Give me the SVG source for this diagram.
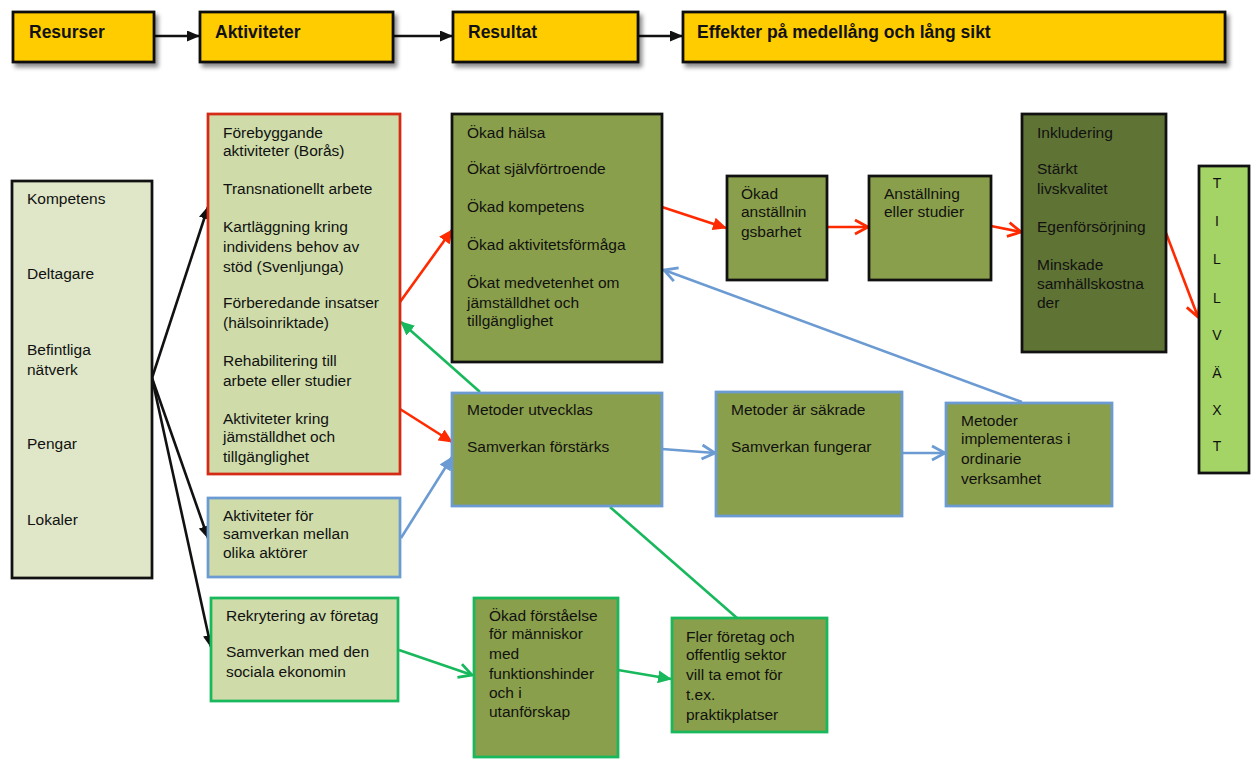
<svg xmlns="http://www.w3.org/2000/svg" width="1252" height="759" viewBox="0 0 1252 759">
<style>
text{font-family:"Liberation Sans",Arial,sans-serif;font-size:15.5px;fill:#111}
.h{font-weight:bold;font-size:17.5px}
.hb{fill:#ffcc00;stroke:#111;stroke-width:2.75}
.bk{stroke:#111;stroke-width:2.75}
.rd{stroke:#d42a16;stroke-width:2.75}
.bl{stroke:#6b9bd2;stroke-width:2.75}
.gn{stroke:#18b85c;stroke-width:2.75}
.pale{fill:#dfe7c8}
.lg{fill:#cfdcaa}
.ol{fill:#8a9f4b}
.dk{fill:#5f7335}
.tv{fill:#a4d466}
.c{fill:none;stroke-width:2.6}
.t{font-size:14px;text-anchor:middle}
</style>
<defs>
<filter id="sh" x="-10%" y="-30%" width="130%" height="180%">
<feDropShadow dx="3" dy="4" stdDeviation="2" flood-color="#000" flood-opacity="0.45"/>
</filter>
<marker id="fk" markerUnits="userSpaceOnUse" markerWidth="13" markerHeight="11" refX="12" refY="5.5" orient="auto"><path d="M0,0 L13,5.5 L0,11 z" fill="#111"/></marker>
<marker id="fr" markerUnits="userSpaceOnUse" markerWidth="14" markerHeight="13" refX="13" refY="6.5" orient="auto"><path d="M0,0 L14,6.5 L0,13 z" fill="#ff2a00"/></marker>
<marker id="fb" markerUnits="userSpaceOnUse" markerWidth="14" markerHeight="13" refX="13" refY="6.5" orient="auto"><path d="M0,0 L14,6.5 L0,13 z" fill="#6b9bd2"/></marker>
<marker id="fg" markerUnits="userSpaceOnUse" markerWidth="14" markerHeight="13" refX="13" refY="6.5" orient="auto"><path d="M0,0 L14,6.5 L0,13 z" fill="#18b85c"/></marker>
<marker id="or" markerUnits="userSpaceOnUse" markerWidth="18" markerHeight="18" refX="15" refY="9" orient="auto"><path d="M2,2 L15,9 L2,16" fill="none" stroke="#ff2a00" stroke-width="2.8"/></marker>
<marker id="ob" markerUnits="userSpaceOnUse" markerWidth="18" markerHeight="18" refX="15" refY="9" orient="auto"><path d="M2,2 L15,9 L2,16" fill="none" stroke="#6b9bd2" stroke-width="2.8"/></marker>
<marker id="og" markerUnits="userSpaceOnUse" markerWidth="18" markerHeight="18" refX="15" refY="9" orient="auto"><path d="M2,2 L15,9 L2,16" fill="none" stroke="#18b85c" stroke-width="2.8"/></marker>
</defs>

<g id="connectors">
<line x1="154" y1="36" x2="199" y2="36" stroke="#111" class="c" marker-end="url(#fk)"/>
<line x1="393" y1="36" x2="452" y2="36" stroke="#111" class="c" marker-end="url(#fk)"/>
<line x1="638" y1="36" x2="682" y2="36" stroke="#111" class="c" marker-end="url(#fk)"/>

<line x1="152" y1="378" x2="208" y2="207" stroke="#111" class="c" marker-end="url(#fk)"/>
<line x1="152" y1="378" x2="208" y2="538" stroke="#111" class="c" marker-end="url(#fk)"/>
<line x1="152" y1="378" x2="211" y2="647" stroke="#111" class="c" marker-end="url(#fk)"/>

<line x1="400" y1="302" x2="452" y2="230" stroke="#ff2a00" class="c" marker-end="url(#fr)"/>
<line x1="400" y1="409" x2="452" y2="442" stroke="#ff2a00" class="c" marker-end="url(#fr)"/>
<line x1="662" y1="207" x2="726" y2="228" stroke="#ff2a00" class="c" marker-end="url(#fr)"/>
<line x1="827" y1="227" x2="868" y2="227" stroke="#ff2a00" class="c" marker-end="url(#or)"/>
<line x1="991" y1="226" x2="1021" y2="232" stroke="#ff2a00" class="c" marker-end="url(#or)"/>
<line x1="1166" y1="233" x2="1198" y2="317" stroke="#ff2a00" class="c" marker-end="url(#or)"/>

<line x1="401" y1="538" x2="452" y2="457" stroke="#6b9bd2" class="c" marker-end="url(#fb)"/>
<line x1="662" y1="449" x2="715" y2="453" stroke="#6b9bd2" class="c" marker-end="url(#ob)"/>
<line x1="902" y1="453" x2="945" y2="453" stroke="#6b9bd2" class="c" marker-end="url(#ob)"/>
<line x1="1022" y1="402" x2="664" y2="270" stroke="#6b9bd2" class="c" marker-end="url(#ob)"/>

<line x1="480" y1="392" x2="401" y2="322" stroke="#18b85c" class="c" marker-end="url(#fg)"/>
<line x1="610" y1="507" x2="737" y2="618" stroke="#18b85c" class="c"/>
<line x1="399" y1="650" x2="472" y2="675" stroke="#18b85c" class="c" marker-end="url(#og)"/>
<line x1="618" y1="670" x2="671" y2="679" stroke="#18b85c" class="c" marker-end="url(#fg)"/>
</g>

<g id="resurser-head"><rect x="13" y="12" width="141" height="50" class="hb" filter="url(#sh)"/><text x="29" y="38" class="h">Resurser</text></g>
<g id="aktiviteter-head"><rect x="200" y="12" width="193" height="50" class="hb" filter="url(#sh)"/><text x="215" y="38" class="h">Aktiviteter</text></g>
<g id="resultat-head"><rect x="453" y="12" width="185" height="50" class="hb" filter="url(#sh)"/><text x="468" y="38" class="h">Resultat</text></g>
<g id="effekter-head"><rect x="683" y="12" width="542" height="50" class="hb" filter="url(#sh)"/><text x="697" y="38" class="h">Effekter på medellång och lång sikt</text></g>

<g id="resurser">
<rect x="12" y="181" width="140" height="397" class="pale bk"/>
<text x="27" y="204">Kompetens</text>
<text x="27" y="279">Deltagare</text>
<text x="27" y="355">Befintliga</text>
<text x="27" y="375">nätverk</text>
<text x="27" y="449">Pengar</text>
<text x="27" y="525">Lokaler</text>
</g>

<g id="aktiviteter">
<rect x="208" y="114" width="192" height="360" class="lg rd"/>
<text x="223" y="138">Förebyggande</text>
<text x="223" y="156">aktiviteter (Borås)</text>
<text x="223" y="194">Transnationellt arbete</text>
<text x="223" y="232">Kartläggning kring</text>
<text x="223" y="252">individens behov av</text>
<text x="223" y="272">stöd (Svenljunga)</text>
<text x="223" y="308">Förberedande insatser</text>
<text x="223" y="328">(hälsoinriktade)</text>
<text x="223" y="366">Rehabilitering till</text>
<text x="223" y="386">arbete eller studier</text>
<text x="223" y="424">Aktiviteter kring</text>
<text x="223" y="442">jämställdhet och</text>
<text x="223" y="462">tillgänglighet</text>
</g>

<g id="samverkan-aktiviteter">
<rect x="208" y="498" width="192" height="79" class="lg bl"/>
<text x="223" y="521">Aktiviteter för</text>
<text x="223" y="539">samverkan mellan</text>
<text x="223" y="558">olika aktörer</text>
</g>

<g id="rekrytering">
<rect x="211" y="598" width="187" height="103" class="lg gn"/>
<text x="226" y="621">Rekrytering av företag</text>
<text x="226" y="657">Samverkan med den</text>
<text x="226" y="677">sociala ekonomin</text>
</g>

<g id="resultat-halsa">
<rect x="452" y="114" width="210" height="248" class="ol bk"/>
<text x="467" y="138">Ökad hälsa</text>
<text x="467" y="174">Ökat självförtroende</text>
<text x="467" y="212">Ökad kompetens</text>
<text x="467" y="250">Ökad aktivitetsförmåga</text>
<text x="467" y="288">Ökat medvetenhet om</text>
<text x="467" y="308">jämställdhet och</text>
<text x="467" y="326">tillgänglighet</text>
</g>

<g id="metoder-utvecklas">
<rect x="452" y="393" width="210" height="113" class="ol bl"/>
<text x="467" y="415">Metoder utvecklas</text>
<text x="467" y="452">Samverkan förstärks</text>
</g>

<g id="okad-forstaelse">
<rect x="474" y="598" width="144" height="159" class="ol gn"/>
<text x="489" y="621">Ökad förståelse</text>
<text x="489" y="639">för människor</text>
<text x="489" y="659">med</text>
<text x="489" y="679">funktionshinder</text>
<text x="489" y="698">och i</text>
<text x="489" y="717">utanförskap</text>
</g>

<g id="fler-foretag">
<rect x="672" y="618" width="155" height="114" class="ol gn"/>
<text x="686" y="642">Fler företag och</text>
<text x="686" y="660">offentlig sektor</text>
<text x="686" y="680">vill ta emot för</text>
<text x="686" y="700">t.ex.</text>
<text x="686" y="720">praktikplatser</text>
</g>

<g id="anstallningsbarhet">
<rect x="727" y="176" width="100" height="104" class="ol bk"/>
<text x="741" y="199">Ökad</text>
<text x="741" y="217">anställnin</text>
<text x="741" y="237">gsbarhet</text>
</g>

<g id="anstallning">
<rect x="869" y="176" width="122" height="104" class="ol bk"/>
<text x="884" y="199">Anställning</text>
<text x="884" y="217">eller studier</text>
</g>

<g id="metoder-sakrade">
<rect x="716" y="392" width="186" height="124" class="ol bl"/>
<text x="731" y="415">Metoder är säkrade</text>
<text x="731" y="452">Samverkan fungerar</text>
</g>

<g id="metoder-implementeras">
<rect x="946" y="403" width="166" height="103" class="ol bl"/>
<text x="961" y="426">Metoder</text>
<text x="961" y="444">implementeras i</text>
<text x="961" y="464">ordinarie</text>
<text x="961" y="484">verksamhet</text>
</g>

<g id="effekter">
<rect x="1022" y="114" width="144" height="238" class="dk bk"/>
<text x="1037" y="138">Inkludering</text>
<text x="1037" y="174">Stärkt</text>
<text x="1037" y="194">livskvalitet</text>
<text x="1037" y="232">Egenförsörjning</text>
<text x="1037" y="270">Minskade</text>
<text x="1037" y="289">samhällskostna</text>
<text x="1037" y="308">der</text>
</g>

<g id="tillvaxt">
<rect x="1199" y="166" width="50" height="307" class="tv bk"/>
<text x="1217" y="188" class="t">T</text>
<text x="1217" y="226" class="t">I</text>
<text x="1217" y="264" class="t">L</text>
<text x="1217" y="303" class="t">L</text>
<text x="1217" y="340" class="t">V</text>
<text x="1217" y="378" class="t">Ä</text>
<text x="1217" y="415" class="t">X</text>
<text x="1217" y="451" class="t">T</text>
</g>
</svg>
